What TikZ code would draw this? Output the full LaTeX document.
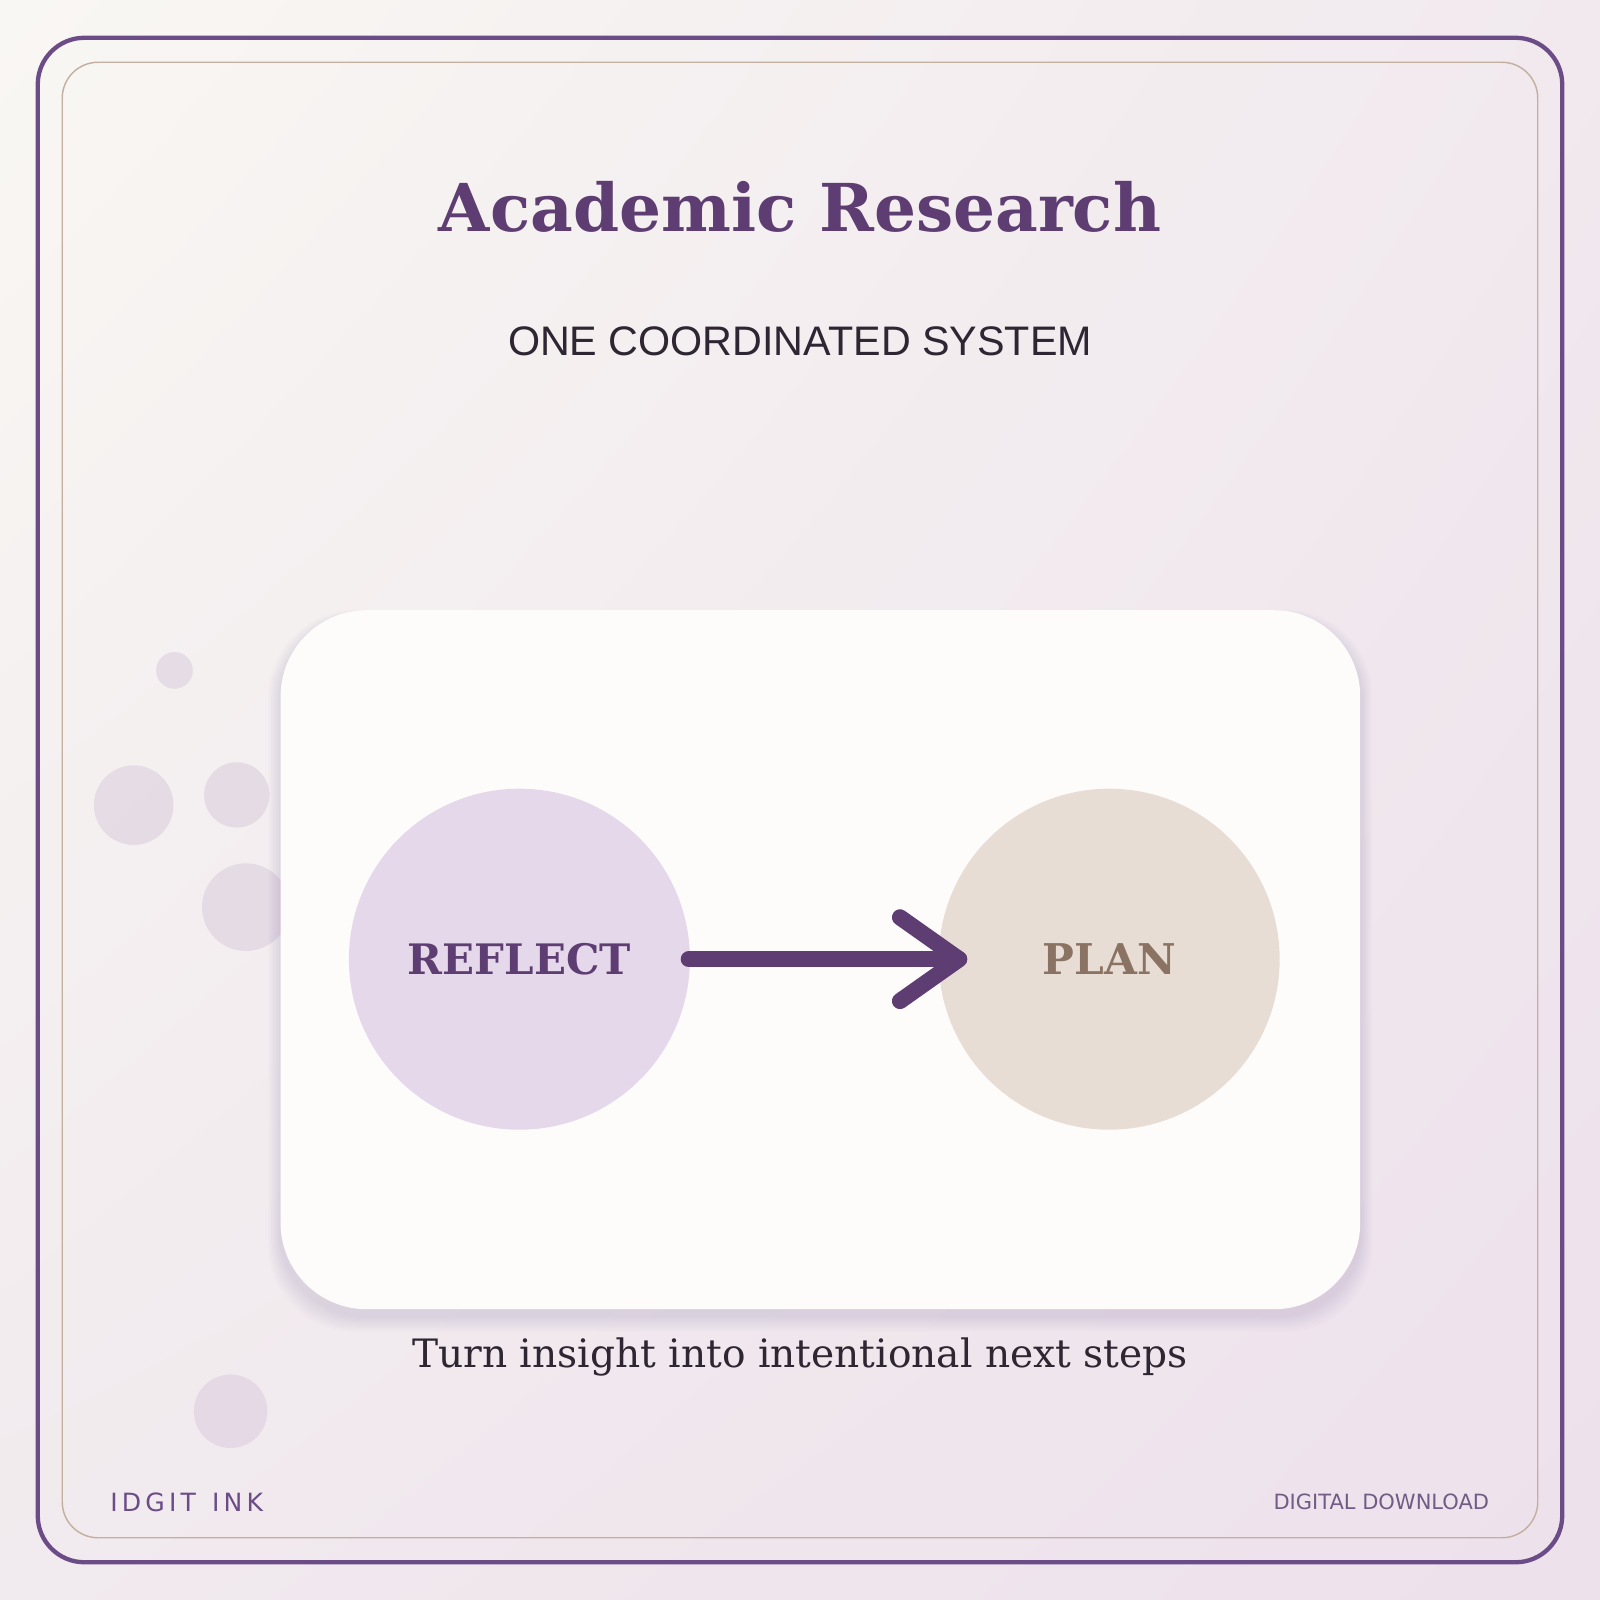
\documentclass[tikz,border=0pt]{standalone}
\usetikzlibrary{shadings}
\usepackage{fontspec}
\setmainfont{DejaVu Serif}
\newfontfamily\subf{Liberation Sans}
\newfontfamily\dvs{DejaVu Sans}
\definecolor{pur}{HTML}{5E3D72}
\definecolor{frame}{HTML}{6B4C87}
\definecolor{tan}{HTML}{C4B0A0}
\definecolor{lilac}{HTML}{E4D8EA}
\definecolor{sand}{HTML}{E8DDD5}
\definecolor{plantext}{HTML}{8A7363}
\definecolor{dark}{HTML}{2E2633}
\definecolor{dot}{HTML}{DCCFDF}
\definecolor{bgA}{HTML}{F9F7F3}
\definecolor{bgB}{HTML}{F1E9EE}
\definecolor{bgC}{HTML}{F1EAEE}
\definecolor{bgD}{HTML}{EDE1EC}
\definecolor{cardc}{HTML}{FDFCFA}
\tikzset{deco/.style={fill=dot,opacity=0.6}}
\begin{document}
\begin{tikzpicture}[x=0.01cm,y=-0.01cm]
\useasboundingbox (0,0) rectangle (1568,1568);
\shade[upper left=bgA,upper right=bgB,lower left=bgC,lower right=bgD] (0,0) rectangle (1568,1568);
\draw[frame,line width=1.2pt,rounded corners=13] (37,37) rectangle (1531,1531);
\draw[tan,line width=0.4pt,rounded corners=10] (61,61) rectangle (1507,1507);
\node[font=\bfseries\fontsize{18.4}{22}\selectfont,text=pur] (title) at (784,203) {Academic Research};
\node[font=\subf\fontsize{11.5}{14}\selectfont,text=dark] (sub) at (784,334) {ONE COORDINATED SYSTEM};
\fill[deco] (171,657) circle (18);
\fill[deco] (131,789) circle (39);
\fill[deco] (232,779) circle (32);
\fill[deco] (241,889) circle (43);
\fill[deco] (226,1383) circle (36);
\foreach \i in {1,...,8}{
  \fill[pur,opacity=0.016,rounded corners=24] (275-\i*1.5,598-\i*1+8) rectangle (1333+\i*1.5,1283+\i*2+6);
}
\fill[cardc,rounded corners=24] (275,598) rectangle (1333,1283);
\node[circle,fill=lilac,minimum size=3.34cm,inner sep=0,font=\bfseries\fontsize{11.7}{14}\selectfont,text=pur] (reflect) at (509,940) {REFLECT};
\node[circle,fill=sand,minimum size=3.34cm,inner sep=0,font=\bfseries\fontsize{11.8}{14}\selectfont,text=plantext] (plan) at (1087,940) {PLAN};
\coordinate (tip) at (940,940);
\coordinate (tail) at (675,940);
\coordinate (h1) at (882,899);
\coordinate (h2) at (882,981);
\draw[pur,line width=4.5pt,line cap=round] (tail) -- (tip);
\draw[pur,line width=4.5pt,line cap=round,line join=round] (h1) -- (tip) -- (h2);
\node[font=\fontsize{10.9}{13}\selectfont,text=dark] (tag) at (784,1330) {Turn insight into intentional next steps};
\node[font=\dvs\fontsize{7}{9}\selectfont,text=frame] (brand) at (183,1472) {I\,D\,G\,I\,T\ \ I\,N\,K};
\node[font=\dvs\fontsize{5.85}{8}\selectfont,text=frame!70!gray,anchor=east,inner sep=0] (dl) at (1460,1472) {DIGITAL DOWNLOAD};
\end{tikzpicture}
\end{document}
